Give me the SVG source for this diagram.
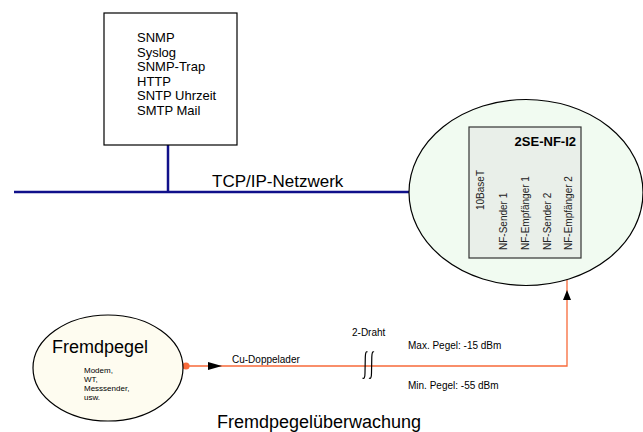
<svg xmlns="http://www.w3.org/2000/svg" width="643" height="432" viewBox="0 0 643 432">
<style>
text{font-family:"Liberation Sans",Arial,sans-serif;fill:#000}
.net{stroke:#10108a;stroke-width:2.5;fill:none}
.cu{stroke:#f86a3a;stroke-width:1.3;fill:none}
.brk{fill:none;stroke:#000;stroke-width:1.2}
.s10{font-size:10px}
.rot{font-size:10px;fill:#222}
</style>
<rect width="643" height="432" fill="#fff"/>
<g id="connectors">
<line class="net" x1="14" y1="192" x2="469" y2="192"/>
<line class="net" x1="168" y1="145" x2="168" y2="192"/>
<polyline class="cu" points="186,366 567,366 567,258"/>
<circle cx="186" cy="366" r="3.6" fill="#f86a3a"/>
<polygon points="208,362 222,366 208,370" fill="#000"/>
<polygon points="567,290 563,300 571,300" fill="#000"/>
<path class="brk" d="M367.5,352 C366,351 365.5,353 365.3,357 L365,373 C365,378 364,379 362.5,378"/>
<path class="brk" d="M374,352 C372.5,351 372,353 371.8,357 L371.5,373 C371.5,378 370.5,379 369,378"/>
</g>
<g id="server">
<rect x="104" y="13" width="133" height="132" fill="#fff" stroke="#000" stroke-width="1.2"/>
<text x="137" y="42" font-size="13">SNMP</text>
<text x="137" y="56.6" font-size="13">Syslog</text>
<text x="137" y="71.2" font-size="13">SNMP-Trap</text>
<text x="137" y="85.8" font-size="13">HTTP</text>
<text x="137" y="100.4" font-size="13">SNTP Uhrzeit</text>
<text x="137" y="115" font-size="13">SMTP Mail</text>
</g>
<text x="212" y="187" font-size="17">TCP/IP-Netzwerk</text>
<g id="device">
<ellipse cx="526" cy="192.5" rx="117" ry="93" fill="#f1fbf1" stroke="#000" stroke-width="1.2"/>
<rect x="469" y="127" width="112" height="131" fill="#e9efe9" stroke="#333" stroke-width="1.2"/>
<text x="576" y="146" font-size="13" font-weight="bold" text-anchor="end">2SE-NF-I2</text>
<text class="rot" transform="translate(484,210) rotate(-90)">10BaseT</text>
<text class="rot" transform="translate(507,250) rotate(-90)">NF-Sender 1</text>
<text class="rot" transform="translate(529,250) rotate(-90)">NF-Empfänger 1</text>
<text class="rot" transform="translate(551,250) rotate(-90)">NF-Sender 2</text>
<text class="rot" transform="translate(572,250) rotate(-90)">NF-Empfänger 2</text>
</g>
<g id="fremdpegel">
<ellipse cx="108" cy="368" rx="75" ry="53" fill="#fefcf0" stroke="#000" stroke-width="1.2"/>
<text x="52" y="353" font-size="18">Fremdpegel</text>
<text x="84" y="373" font-size="8">Modem,</text>
<text x="84" y="382" font-size="8">WT,</text>
<text x="84" y="391" font-size="8">Messsender,</text>
<text x="84" y="400" font-size="8">usw.</text>
</g>
<text class="s10" x="232" y="363">Cu-Doppelader</text>
<text class="s10" x="352" y="336">2-Draht</text>
<text class="s10" x="408" y="349">Max. Pegel: -15 dBm</text>
<text class="s10" x="408" y="389">Min. Pegel: -55 dBm</text>
<text x="217" y="428" font-size="18">Fremdpegelüberwachung</text>
</svg>
